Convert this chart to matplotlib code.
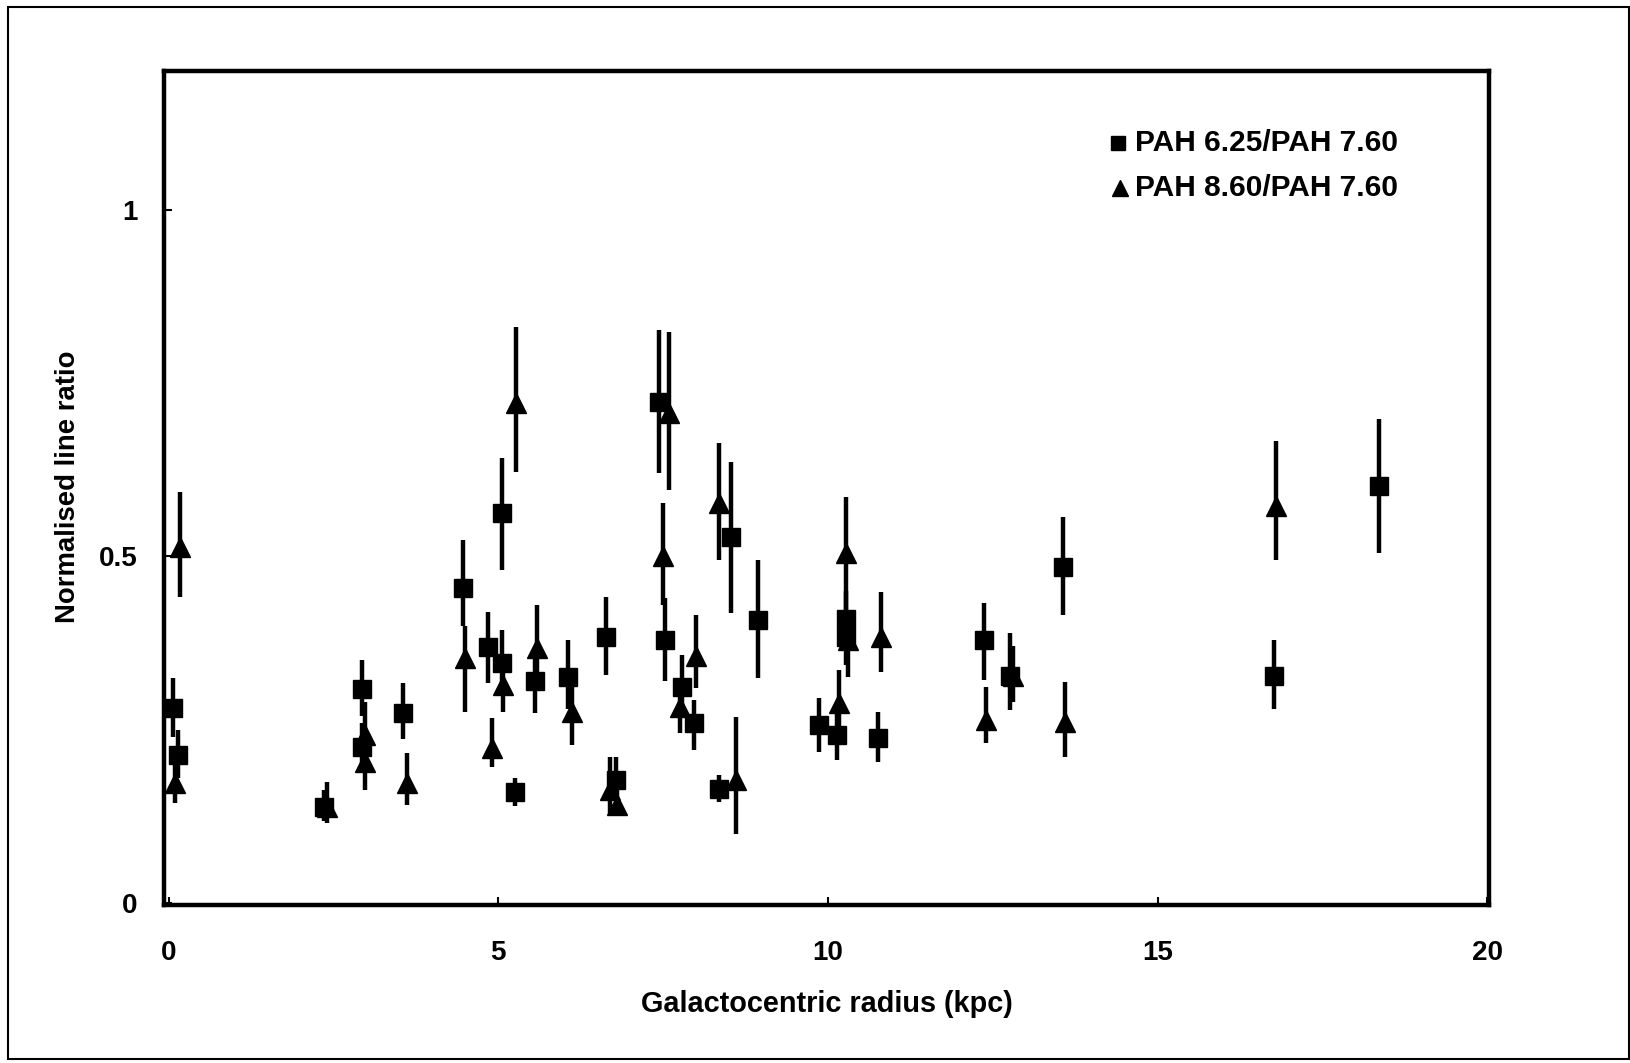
import matplotlib
matplotlib.use("Agg")
import matplotlib.pyplot as plt
from matplotlib.patches import Rectangle

plt.rcParams["font.family"] = ["Liberation Sans", "DejaVu Sans"]
plt.rcParams["font.weight"] = "bold"

# PAH 6.25 / PAH 7.60
sq_r = [0.06, 0.14, 2.36, 2.93, 2.93, 3.56, 4.46, 4.84, 5.05, 5.06, 5.25, 5.55,
        6.05, 6.64, 6.79, 7.44, 7.53, 7.78, 7.97, 8.35, 8.53, 8.94, 9.86, 10.14,
        10.27, 10.27, 10.76, 12.36, 12.76, 13.57, 16.77, 18.36]
sq_val = [0.281, 0.213, 0.138, 0.308, 0.225, 0.274, 0.455, 0.369, 0.346, 0.563,
          0.160, 0.320, 0.326, 0.384, 0.177, 0.723, 0.380, 0.312, 0.260, 0.165,
          0.528, 0.408, 0.257, 0.242, 0.410, 0.383, 0.238, 0.380, 0.327, 0.485,
          0.327, 0.602]
sq_err_lo = [0.041, 0.033, 0.020, 0.038, 0.035, 0.038, 0.055, 0.052, 0.046, 0.083,
             0.020, 0.046, 0.046, 0.055, 0.027, 0.103, 0.060, 0.042, 0.040, 0.020,
             0.110, 0.083, 0.039, 0.036, 0.040, 0.040, 0.034, 0.058, 0.049, 0.069,
             0.047, 0.097]
sq_err_hi = [0.044, 0.037, 0.025, 0.042, 0.035, 0.043, 0.069, 0.051, 0.048, 0.079,
             0.020, 0.040, 0.054, 0.057, 0.033, 0.104, 0.060, 0.045, 0.033, 0.020,
             0.108, 0.087, 0.039, 0.033, 0.040, 0.040, 0.038, 0.052, 0.063, 0.072,
             0.053, 0.096]

# PAH 8.60 / PAH 7.60
tr_r = [0.09, 0.17, 2.40, 2.97, 2.97, 3.61, 4.49, 4.90, 5.07, 5.27, 5.58, 6.11,
        6.69, 6.80, 7.49, 7.59, 7.76, 8.00, 8.35, 8.60, 10.17, 10.28, 10.30, 10.80,
        12.39, 12.80, 13.60, 16.80]
tr_val = [0.173, 0.514, 0.138, 0.242, 0.204, 0.173, 0.353, 0.224, 0.315, 0.721,
          0.368, 0.276, 0.163, 0.141, 0.500, 0.707, 0.282, 0.356, 0.577, 0.177,
          0.288, 0.505, 0.380, 0.384, 0.264, 0.327, 0.261, 0.573]
tr_err_lo = [0.029, 0.072, 0.023, 0.040, 0.041, 0.032, 0.077, 0.028, 0.039, 0.099,
             0.060, 0.048, 0.033, 0.014, 0.070, 0.111, 0.037, 0.046, 0.082, 0.077,
             0.038, 0.085, 0.054, 0.051, 0.033, 0.037, 0.051, 0.078]
tr_err_hi = [0.047, 0.079, 0.036, 0.048, 0.036, 0.043, 0.047, 0.043, 0.035, 0.110,
             0.062, 0.044, 0.047, 0.029, 0.077, 0.117, 0.038, 0.060, 0.087, 0.091,
             0.048, 0.081, 0.040, 0.065, 0.048, 0.043, 0.058, 0.093]

series_labels = ["PAH 6.25/PAH 7.60", "PAH 8.60/PAH 7.60"]
x_ticks = [0, 5, 10, 15, 20]
y_ticks = [0, 0.5, 1]
y_tick_labels = ["0", "0.5", "1"]

fig = plt.figure(figsize=(16.31, 10.63), dpi=100)
ax = fig.add_axes([0.1006, 0.1486, 0.8125, 0.7846])

ax.errorbar(sq_r, sq_val, yerr=[sq_err_lo, sq_err_hi], fmt="s", color="black",
            ms=13.5, elinewidth=3.2, capsize=0, zorder=3)
ax.errorbar(tr_r, tr_val, yerr=[tr_err_lo, tr_err_hi], fmt="^", color="black",
            ms=14.5, elinewidth=3.2, capsize=0, zorder=3)

ax.set_xlim(-0.07, 20.03)
ax.set_ylim(-0.003, 1.2)
ax.set_xticks(x_ticks)
ax.set_xticklabels([str(t) for t in x_ticks])
ax.set_yticks(y_ticks)
ax.set_yticklabels(y_tick_labels)
ax.tick_params(axis="both", direction="in", length=6, width=1.5,
               labelsize=20)
ax.tick_params(axis="x", pad=25)
ax.tick_params(axis="y", pad=19)
for lab in ax.get_xticklabels() + ax.get_yticklabels():
    lab.set_fontweight("bold")

for sp in ax.spines.values():
    sp.set_linewidth(3.2)

ax.set_xlabel("Galactocentric radius (kpc)", fontsize=20.8, fontweight="bold")
ax.xaxis.set_label_coords(0.5, -0.119)
ax.xaxis.label.set_va("center")
ax.set_ylabel("Normalised line ratio", fontsize=19.8, fontweight="bold")
ax.yaxis.set_label_coords(-0.0723, 0.502)
ax.yaxis.label.set_va("center")

# Legend entries
leg_y = [0.914, 0.860]
ax.plot([0.720], [leg_y[0]], marker="s", ms=10, color="black",
        transform=ax.transAxes, clip_on=False)
ax.plot([0.721], [leg_y[1]], marker="^", ms=11.5, color="black",
        transform=ax.transAxes, clip_on=False)
for yy, txt in zip(leg_y, series_labels):
    ax.text(0.733, yy, txt, transform=ax.transAxes, fontsize=21.5,
            fontweight="bold", va="center", ha="left")

# Border around the whole figure
fig.patches.append(Rectangle((0.005, 0.004), 0.9935, 0.989, transform=fig.transFigure,
                             fill=False, edgecolor="black", linewidth=1.5))

fig.savefig("out.png", dpi=100, facecolor="white")
